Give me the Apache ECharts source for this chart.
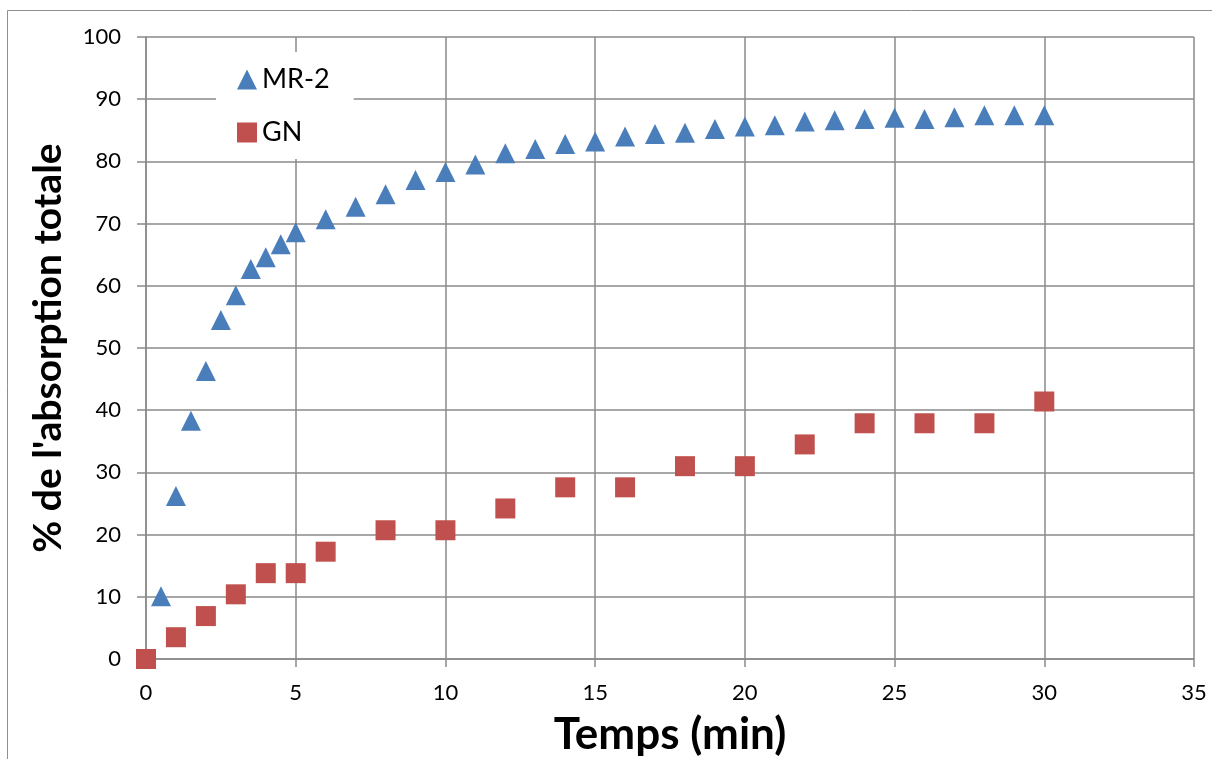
<!DOCTYPE html>
<html>
<head>
<meta charset="utf-8">
<script src="https://cdn.jsdelivr.net/npm/echarts@6/dist/echarts.min.js"></script>
<style>
html,body{margin:0;padding:0;background:#fff;}
#chart{width:1212px;height:759px;}
</style>
</head>
<body>
<div id="chart"></div>
<script>
// Data
const mr2Time = [0.5, 1, 1.5, 2, 2.5, 3, 3.5, 4, 4.5, 5, 6, 7, 8, 9, 10, 11, 12, 13, 14, 15, 16, 17, 18, 19, 20, 21, 22, 23, 24, 25, 26, 27, 28, 29, 30];
const mr2Values = [10.1, 26.2, 38.3, 46.3, 54.5, 58.5, 62.7, 64.6, 66.7, 68.6, 70.7, 72.7, 74.7, 77.0, 78.3, 79.5, 81.3, 82.0, 82.8, 83.2, 84.0, 84.4, 84.6, 85.2, 85.6, 85.8, 86.4, 86.6, 86.8, 87.0, 86.8, 87.1, 87.4, 87.4, 87.4];
const gnTime = [0, 1, 2, 3, 4, 5, 6, 8, 10, 12, 14, 16, 18, 20, 22, 24, 26, 28, 30];
const gnValues = [0, 3.5, 6.9, 10.4, 13.8, 13.8, 17.25, 20.7, 20.7, 24.2, 27.6, 27.6, 31.0, 31.0, 34.5, 37.9, 37.9, 37.9, 41.4];
const seriesNames = ['MR-2', 'GN'];
const xTitle = 'Temps (min)';
const yTitle = "% de l'absorption totale";

const pair = (xs, ys) => xs.map((x, i) => [x, ys[i]]);
const gridColor = '#8a8a8a';
const font = 'Lato, "Open Sans", sans-serif';

const chart = echarts.init(document.getElementById('chart'), null, {renderer: 'canvas'});
chart.setOption({
  animation: false,
  backgroundColor: '#ffffff',
  graphic: [{
    type: 'rect',
    shape: {x: 7.5, y: 10.5, width: 1300, height: 900},
    style: {fill: 'none', stroke: '#8f8f8f', lineWidth: 1},
    z: -1
  }],
  grid: {left: 146, top: 37, right: 18, bottom: 100, containLabel: false, outerBoundsMode: 'none'},
  legend: {
    orient: 'vertical',
    left: 216,
    top: 52,
    padding: [14, 24, 13, 21],
    backgroundColor: '#ffffff',
    itemWidth: 20,
    itemHeight: 20,
    itemGap: 26,
    itemStyle: {borderWidth: 0, opacity: 1},
    textStyle: {fontFamily: font, fontSize: 27, color: '#000', lineHeight: 20, padding: [3, 0, 0, 0]},
    data: seriesNames
  },
  xAxis: {
    type: 'value',
    min: 0, max: 35, interval: 5,
    name: xTitle,
    nameLocation: 'middle',
    nameGap: 54,
    nameTextStyle: {fontFamily: font, fontSize: 44, fontWeight: 'bold', color: '#000'},
    axisLine: {show: true, lineStyle: {color: gridColor, width: 1.5}},
    axisTick: {show: true, length: 8, lineStyle: {color: gridColor, width: 1.5}},
    axisLabel: {fontFamily: font, fontSize: 22, color: '#000', margin: 23},
    splitLine: {show: true, lineStyle: {color: gridColor, width: 1.5}}
  },
  yAxis: {
    type: 'value',
    min: 0, max: 100, interval: 10,
    name: yTitle,
    nameLocation: 'middle',
    nameGap: 78,
    nameTextStyle: {fontFamily: font, fontSize: 39, fontWeight: 'bold', color: '#000'},
    axisLine: {show: true, lineStyle: {color: gridColor, width: 1.5}},
    axisTick: {show: true, length: 9, lineStyle: {color: gridColor, width: 1.5}},
    axisLabel: {fontFamily: font, fontSize: 22, color: '#000', margin: 25},
    splitLine: {show: true, lineStyle: {color: gridColor, width: 1.5}}
  },
  series: [
    {
      name: seriesNames[0],
      type: 'scatter',
      symbol: 'triangle',
      symbolSize: 20,
      itemStyle: {color: '#4a7ebb', opacity: 1},
      data: pair(mr2Time, mr2Values),
      z: 3
    },
    {
      name: seriesNames[1],
      type: 'scatter',
      symbol: 'rect',
      symbolSize: 20,
      itemStyle: {color: '#c0504d', opacity: 1},
      data: pair(gnTime, gnValues),
      z: 4
    }
  ]
});
</script>
</body>
</html>
